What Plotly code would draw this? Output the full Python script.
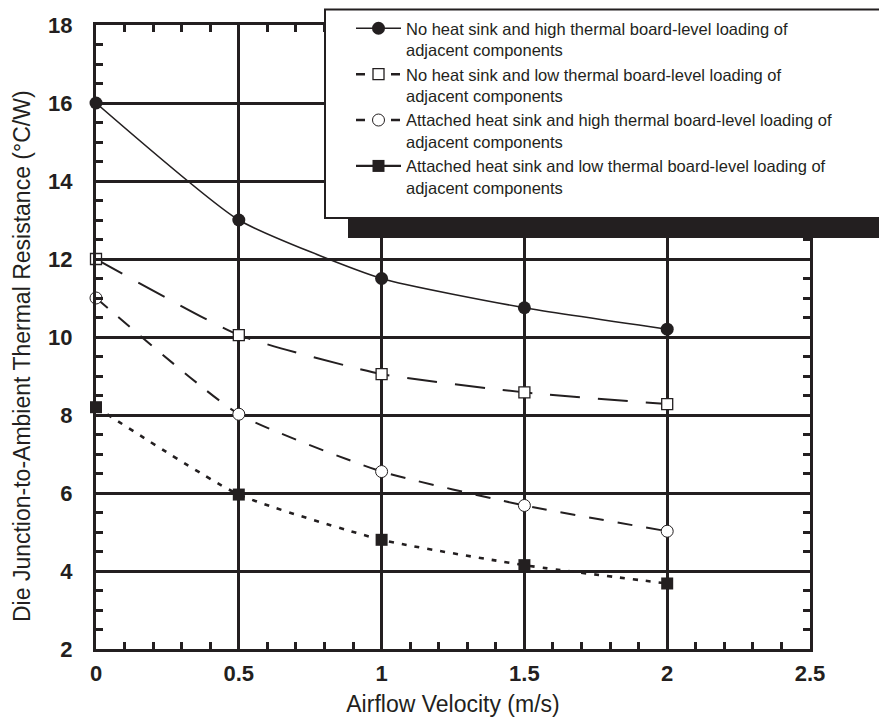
import plotly.graph_objects as go

# ---- data ----
airflow = [0, 0.5, 1, 1.5, 2]
no_hs_high = [16.0, 13.0, 11.5, 10.75, 10.2]
no_hs_low = [12.0, 10.05, 9.05, 8.58, 8.28]
hs_high = [11.0, 8.02, 6.55, 5.68, 5.02]
hs_low = [8.2, 5.96, 4.8, 4.15, 3.68]

names = [
    "No heat sink and high thermal board-level loading of<br>adjacent components",
    "No heat sink and low thermal board-level loading of<br>adjacent components",
    "Attached heat sink and high thermal board-level loading of<br>adjacent components",
    "Attached heat sink and low thermal board-level loading of<br>adjacent components",
]
x_ticks = [0, 0.5, 1, 1.5, 2, 2.5]
x_tick_labels = ["0", "0.5", "1", "1.5", "2", "2.5"]
y_ticks = [2, 4, 6, 8, 10, 12, 14, 16, 18]

INK = "#231f20"
FONT = "Liberation Sans, Arial, sans-serif"

series = [no_hs_high, no_hs_low, hs_high, hs_low]
line_styles = [
    dict(color=INK, width=1.6, dash="solid"),
    dict(color=INK, width=2, dash="30px,18px"),
    dict(color=INK, width=2, dash="15px,14px"),
    dict(color=INK, width=2.6, dash="5px,8px"),
]
markers = [
    dict(symbol="circle", size=13, color=INK, line=dict(width=0)),
    dict(symbol="square", size=11, color="white", line=dict(width=1.3, color=INK)),
    dict(symbol="circle", size=12, color="white", line=dict(width=1, color=INK)),
    dict(symbol="square", size=12, color=INK, line=dict(width=0)),
]
legend_lines = [
    dict(color=INK, width=1.6, dash="solid"),
    dict(color=INK, width=2.5, dash="9px,26px,9px"),
    dict(color=INK, width=2.5, dash="9px,26px,9px"),
    dict(color=INK, width=2.2, dash="solid"),
]

fig = go.Figure()
for ys, ls in zip(series, line_styles):
    fig.add_trace(go.Scatter(
        x=airflow, y=ys, mode="lines", line=dict(ls, shape="spline", smoothing=0.5),
        showlegend=False, cliponaxis=False, hoverinfo="skip"))
for ys, mk in zip(series, markers):
    fig.add_trace(go.Scatter(
        x=airflow, y=ys, mode="markers", marker=mk,
        showlegend=False, cliponaxis=False, hoverinfo="skip"))
for nm, ll, mk in zip(names, legend_lines, markers):
    fig.add_trace(go.Scatter(
        x=[None], y=[None], mode="lines+markers", name=nm, line=ll, marker=mk))

# page has an 8px body margin; work in page pixels and convert
OFF = 8
W, H = 887 - OFF, 722 - OFF
PL, PR, PT, PB = 96, 810, 25, 649          # plot area in page pixels
L, T = PL - OFF, PT - OFF
pw, ph = PR - PL, PB - PT
R, B = W - L - pw, H - T - ph

def px_x(p):
    return (p - PL) / pw

def px_y(p):
    return (PB - p) / ph

axis_common = dict(
    showgrid=True, gridcolor=INK, gridwidth=3,
    showline=True, linecolor=INK, linewidth=3, mirror="ticks",
    ticks="inside", ticklen=0, tickcolor=INK,
    zeroline=False,
    tickfont=dict(family=FONT, size=22, color=INK, weight="bold"),
)

fig.update_layout(
    width=W, height=H,
    margin=dict(l=L, r=R, t=T, b=B, pad=0, autoexpand=False),
    paper_bgcolor="white", plot_bgcolor="white",
    font=dict(family=FONT, color=INK),
    xaxis=dict(
        axis_common, range=[0, 2.5], tickvals=x_ticks, ticktext=x_tick_labels,
        minor=dict(dtick=0.1, ticks="inside", ticklen=7, tickwidth=2.5, tickcolor=INK, showgrid=False),
        ticklabelstandoff=3,
        title=dict(text="Airflow Velocity (m/s)", font=dict(family=FONT, size=23, color=INK), standoff=11),
    ),
    yaxis=dict(
        axis_common, range=[2, 18], tickvals=y_ticks,
        minor=dict(dtick=0.5, ticks="inside", ticklen=7, tickwidth=2.5, tickcolor=INK, showgrid=False),
        ticklabelstandoff=16,
    ),
    showlegend=True,
    legend=dict(
        x=px_x(351), y=px_y(11), xanchor="left", yanchor="top",
        xref="paper", yref="paper",
        bgcolor="rgba(0,0,0,0)", borderwidth=0,
        font=dict(family=FONT, size=16.5, color=INK),
        itemwidth=45, valign="top", tracegroupgap=0,
    ),
    shapes=[
        dict(type="rect", xref="paper", yref="paper", layer="above",
             x0=px_x(348), x1=px_x(900), y0=px_y(238), y1=px_y(150),
             fillcolor=INK, line=dict(width=0)),
        dict(type="rect", xref="paper", yref="paper", layer="above",
             x0=px_x(325), x1=px_x(900), y0=px_y(218), y1=px_y(9.5),
             fillcolor="white", line=dict(color=INK, width=2)),
    ],
    annotations=[
        dict(text="Die Junction-to-Ambient Thermal Resistance (°C/W)",
             xref="paper", yref="paper", x=px_x(22), y=px_y(356),
             xanchor="center", yanchor="middle", textangle=-90, showarrow=False,
             font=dict(family=FONT, size=23, color=INK)),
    ],
)

fig.write_html("out.html")
